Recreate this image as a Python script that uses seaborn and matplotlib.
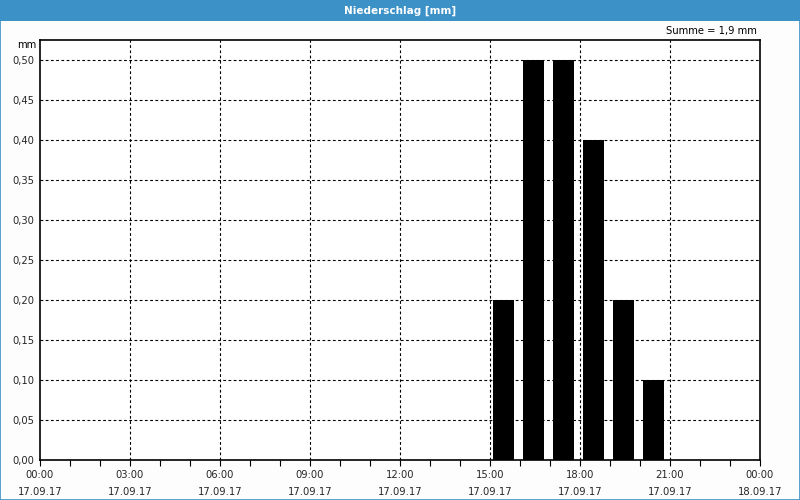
import matplotlib
matplotlib.use("Agg")
import matplotlib.pyplot as plt
import seaborn as sns
import pandas as pd
from matplotlib.patches import Rectangle

sns.set_theme(style="white")
plt.rcParams['font.family'] = ['DejaVu Sans']

# data
hours = [15, 16, 17, 18, 19, 20]          # start hour of each interval
values = [0.2, 0.5, 0.5, 0.4, 0.2, 0.1]  # mm
tick_hours = [0, 3, 6, 9, 12, 15, 18, 21, 24]
tick_labels = ["00:00\n17.09.17", "03:00\n17.09.17", "06:00\n17.09.17", "09:00\n17.09.17",
               "12:00\n17.09.17", "15:00\n17.09.17", "18:00\n17.09.17", "21:00\n17.09.17",
               "00:00\n18.09.17"]
y_ticks = [0.0, 0.05, 0.10, 0.15, 0.20, 0.25, 0.30, 0.35, 0.40, 0.45, 0.50]
title = "Niederschlag [mm]"
summe = "Summe = 1,9 mm"

df = pd.DataFrame({"x": [h + 0.46 for h in hours], "mm": values})

fig = plt.figure(figsize=(8, 5), dpi=100)
fig.patch.set_facecolor("#fcfdfc")
ax = fig.add_axes([0.05, 0.08, 0.90, 0.84])
ax.set_facecolor("white")

sns.barplot(data=df, x="x", y="mm", native_scale=True, width=0.7,
            color="black", edgecolor="none", saturation=1, ax=ax, zorder=3)

ax.set_xlim(0, 24)
ax.set_ylim(0, 0.525)
ax.set_xticks(tick_hours)
ax.set_xticklabels(tick_labels, fontsize=7.2, linespacing=1.9)
ax.set_xticks(range(0, 25), minor=True)
ax.set_yticks(y_ticks)
ax.set_yticklabels([f"{v:.2f}".replace(".", ",") for v in y_ticks], fontsize=7.2)
ax.set_xlabel("")
ax.set_ylabel("")

ax.tick_params(axis="x", which="both", direction="out", length=4, width=0.8,
               color="black", bottom=True, pad=3)
ax.tick_params(axis="y", length=0, pad=4)

for h in tick_hours[1:-1]:
    ax.axvline(h, color="black", lw=0.8, dashes=(2.5, 2.2), zorder=1)
for v in y_ticks[1:]:
    ax.axhline(v, color="black", lw=0.8, dashes=(2.5, 2.2), zorder=1)

for s in ax.spines.values():
    s.set_color("black")
    s.set_linewidth(1.2)
    s.set_visible(True)

# title bar
fig.patches.append(Rectangle((0, 1 - 21 / 500), 1, 21 / 500, transform=fig.transFigure,
                             facecolor="#3c91c7", edgecolor="none", zorder=0))
fig.patches.append(Rectangle((0.0006, 0.001), 0.9988, 0.998, transform=fig.transFigure,
                             facecolor="none", edgecolor="#3c91c7", lw=1.2, zorder=5))
fig.text(0.5, 1 - 10.5 / 500, title, color="white", fontsize=7.5, fontweight="bold",
         ha="center", va="center")
fig.text(757 / 800, 1 - 31 / 500, summe, fontsize=7.2, ha="right", va="center", color="black")
fig.text(36 / 800, 1 - 45 / 500, "mm", fontsize=7.2, ha="right", va="center", color="black")

fig.savefig("out.png", dpi=100, facecolor=fig.get_facecolor())
